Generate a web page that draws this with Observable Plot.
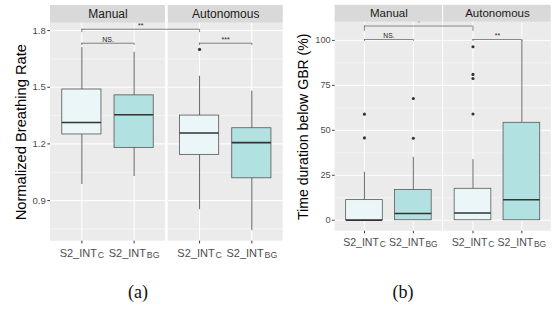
<!DOCTYPE html>
<html>
<head>
<meta charset="utf-8">
<script src="https://cdn.jsdelivr.net/npm/d3@7"></script>
<script src="https://cdn.jsdelivr.net/npm/@observablehq/plot@0.6"></script>
<style>
  html, body { margin: 0; background: #fff; }
  body { position: relative; width: 558px; height: 324px; overflow: hidden; font-family: "Liberation Sans", Arial, sans-serif; }
  .panel { position: absolute; top: 0; }
  .caption { position: absolute; transform: translate(-50%, -50%); font-family: "Liberation Serif", "DejaVu Serif", serif; font-size: 18px; color: #111; }
</style>
</head>
<body>
<div id="panel-a" class="panel" style="left:0px"></div>
<div id="panel-b" class="panel" style="left:280px"></div>
<div class="caption" style="left:138px; top:292px">(a)</div>
<div class="caption" style="left:403px; top:292px">(b)</div>
<script>
// Facets and groups
const modes = ["Manual", "Autonomous"];
const conditions = ["C", "BG"];            // subscripts of S2_INT

// Box order for both panels
const boxMode = ["Manual", "Manual", "Autonomous", "Autonomous"];
const boxCond = ["C", "BG", "C", "BG"];

// (a) Normalized breathing rate: five-number summaries
const brLow    = [0.985, 1.027, 0.852, 0.741];
const brQ1     = [1.250, 1.179, 1.142, 1.018];
const brMedian = [1.313, 1.354, 1.258, 1.207];
const brQ3     = [1.488, 1.457, 1.350, 1.283];
const brHigh   = [1.710, 1.685, 1.558, 1.479];
const brOutMode  = ["Autonomous"];
const brOutCond  = ["C"];
const brOutValue = [1.700];
const brTicks = [0.9, 1.2, 1.5, 1.8];
const brMinor = [0.75, 1.05, 1.35, 1.65];

// (a) significance brackets
const brSigFromMode = ["Manual", "Manual", "Autonomous"];
const brSigFromCond = ["C", "C", "C"];
const brSigToMode   = ["Autonomous", "Manual", "Autonomous"];
const brSigToCond   = ["C", "BG", "BG"];
const brSigLevel    = [1.807, 1.733, 1.733];
const brSigTip      = [1.789, 1.721, 1.721];
const brSigLabel    = ["**", "NS.", "***"];

// (b) Time duration below GBR (%): five-number summaries
const tdLow    = [0, 0, 0, 0];
const tdQ1     = [0, 0, 0, 0];
const tdMedian = [0, 3.7, 4.0, 11.4];
const tdQ3     = [11.2, 16.8, 17.5, 54.2];
const tdHigh   = [26.7, 35.0, 33.7, 100];
const tdOutMode  = ["Manual", "Manual", "Manual", "Manual", "Autonomous", "Autonomous", "Autonomous", "Autonomous"];
const tdOutCond  = ["C", "C", "BG", "BG", "C", "C", "C", "C"];
const tdOutValue = [45.8, 59.0, 45.6, 67.7, 59.1, 78.8, 81.1, 96.5];
const tdTicks = [0, 25, 50, 75, 100];
const tdMinor = [12.5, 37.5, 62.5, 87.5];

// (b) significance brackets
const tdSigFromMode = ["Manual", "Manual", "Autonomous"];
const tdSigFromCond = ["C", "C", "C"];
const tdSigToMode   = ["Autonomous", "Manual", "Autonomous"];
const tdSigToCond   = ["C", "BG", "BG"];
const tdSigLevel    = [108.0, 100.5, 100.5];
const tdSigTip      = [105.0, 99.4, 99.4];
const tdSigLabel    = ["*", "NS.", "**"];

// Box fill per condition
const condFill = {C: "#eaf6f7", BG: "#b1e1e0"};

// Layout constants (ggplot-like discrete expansion, box width, strip)
const EXPAND = 0.6;
const BOX_WIDTH = 0.75;
const MARGIN_TOP = 5;
const STRIP_PX = 17.7;
const PANEL_PX = 218;

function boxPanel(cfg) {
  const span = conditions.length - 1 + 2 * EXPAND;
  const pos = (m, c) => modes.indexOf(m) * (span + cfg.gap) + EXPAND + conditions.indexOf(c);
  const panels = modes.map((m, i) => ({mode: m, x1: i * (span + cfg.gap), x2: i * (span + cfg.gap) + span}));
  const [y0, yTop] = cfg.yDomain;
  const yStrip = yTop + STRIP_PX * (yTop - y0) / PANEL_PX;

  const rows = boxMode.map((m, i) => ({
    mode: m, cond: boxCond[i], x: pos(m, boxCond[i]),
    low: cfg.low[i], q1: cfg.q1[i], median: cfg.median[i], q3: cfg.q3[i], high: cfg.high[i]
  }));
  const outliers = cfg.outMode.map((m, i) => ({x: pos(m, cfg.outCond[i]), y: cfg.outValue[i]}));
  const brackets = cfg.sigLabel.map((label, i) => ({
    x1: pos(cfg.sigFromMode[i], cfg.sigFromCond[i]),
    x2: pos(cfg.sigToMode[i], cfg.sigToCond[i]),
    y: cfg.sigLevel[i], tip: cfg.sigTip[i], label
  }));
  const bracketEnds = brackets.flatMap(b => [{x: b.x1, y: b.y, tip: b.tip}, {x: b.x2, y: b.y, tip: b.tip}]);
  const cats = modes.flatMap(m => conditions.map(c => ({x: pos(m, c), label: `S2_INT_${c}`})));
  const labelAt = new Map(cats.map(d => [d.x, d.label]));
  const grid = ticks => panels.flatMap(p => ticks.map(t => ({x1: p.x1, x2: p.x2, y: t})));

  const height = MARGIN_TOP + STRIP_PX + PANEL_PX + cfg.marginBottom;

  const svg = Plot.plot({
    width: cfg.width,
    height,
    marginTop: MARGIN_TOP,
    marginBottom: cfg.marginBottom,
    marginLeft: cfg.marginLeft,
    marginRight: cfg.marginRight,
    x: {domain: [0, 2 * span + cfg.gap]},
    y: {domain: [y0, yStrip]},
    style: {fontFamily: "'Liberation Sans', Arial, sans-serif", fontSize: "9.6px", color: "#4d4d4d", background: "transparent"},
    marks: [
      // panel backgrounds and grid
      Plot.rect(panels, {x1: "x1", x2: "x2", y1: y0, y2: yTop, fill: "#ebebeb"}),
      Plot.ruleY(grid(cfg.minor), {x1: "x1", x2: "x2", y: "y", stroke: "#fff", strokeWidth: 0.5}),
      Plot.ruleY(grid(cfg.ticks), {x1: "x1", x2: "x2", y: "y", stroke: "#fff", strokeWidth: 1}),
      Plot.ruleX(cats, {x: "x", y1: y0, y2: yTop, stroke: "#fff", strokeWidth: 1}),
      // whiskers, boxes, medians, outliers
      Plot.ruleX(rows, {x: "x", y1: "low", y2: "high", stroke: "#333", strokeWidth: 0.75}),
      Plot.rect(rows, {
        x1: d => d.x - BOX_WIDTH / 2, x2: d => d.x + BOX_WIDTH / 2,
        y1: "q1", y2: "q3", fill: d => condFill[d.cond], stroke: "#555", strokeWidth: 0.8
      }),
      Plot.ruleY(rows, {
        x1: d => d.x - BOX_WIDTH / 2, x2: d => d.x + BOX_WIDTH / 2,
        y: "median", stroke: "#333", strokeWidth: 1.6
      }),
      Plot.dot(outliers, {x: "x", y: "y", r: 1.6, fill: "#333", stroke: null}),
      // significance brackets
      Plot.ruleY(brackets, {x1: "x1", x2: "x2", y: "y", stroke: "#555", strokeWidth: 0.7}),
      Plot.ruleX(bracketEnds, {x: "x", y1: "tip", y2: "y", stroke: "#555", strokeWidth: 0.7}),
      Plot.text(brackets, {
        x: d => (d.x1 + d.x2) / 2, y: "y", text: "label",
        lineAnchor: "bottom", dy: -1.5, fontSize: 7, fill: "#222"
      }),
      // facet strips
      Plot.rect(panels, {x1: "x1", x2: "x2", y1: yTop, y2: yStrip, fill: "#d9d9d9"}),
      Plot.text(panels, {
        x: d => (d.x1 + d.x2) / 2, y: (yTop + yStrip) / 2, text: "mode",
        fontSize: 12, fill: "#1a1a1a"
      }),
      // axes
      Plot.axisY({ticks: cfg.ticks, tickSize: 2.7, tickPadding: 2, label: null, fontSize: 9.6, stroke: "#333"}),
      Plot.axisX({
        ticks: cats.map(d => d.x), tickFormat: d => labelAt.get(d) ?? "",
        tickSize: 2.7, tickPadding: 5, label: null, fontSize: 11, stroke: "#333"
      }),
      Plot.text([cfg.title], {
        x: 0, y: (y0 + yTop) / 2, text: d => d, rotate: -90,
        dx: cfg.titleX - cfg.marginLeft, fontSize: cfg.titleSize, fill: "#000"
      })
    ]
  });

  // write the S2_INT labels with their subscript
  d3.select(svg).selectAll("text").each(function () {
    const t = this.textContent;
    const m = /^S2_INT_(\w+)$/.exec(t);
    if (!m) return;
    const sel = d3.select(this);
    sel.text(null);
    sel.append("tspan").text("S2_INT");
    sel.append("tspan").attr("font-size", 8.8).attr("dx", 0.8).attr("dy", 1).text(m[1]);
  });
  return svg;
}

document.getElementById("panel-a").append(boxPanel({
  width: 285, marginLeft: 50, marginRight: 2.3, marginBottom: 21.3, gap: 0.052,
  yDomain: [0.685, 1.839],
  low: brLow, q1: brQ1, median: brMedian, q3: brQ3, high: brHigh,
  outMode: brOutMode, outCond: brOutCond, outValue: brOutValue,
  ticks: brTicks, minor: brMinor,
  sigFromMode: brSigFromMode, sigFromCond: brSigFromCond, sigToMode: brSigToMode, sigToCond: brSigToCond,
  sigLevel: brSigLevel, sigTip: brSigTip, sigLabel: brSigLabel,
  title: "Normalized Breathing Rate", titleX: 21, titleSize: 14.7
}));

document.getElementById("panel-b").append(boxPanel({
  width: 290, marginLeft: 57, marginRight: 7.6, marginBottom: 21.3, gap: 0.02,
  yDomain: [-6.1, 110.1],
  low: tdLow, q1: tdQ1, median: tdMedian, q3: tdQ3, high: tdHigh,
  outMode: tdOutMode, outCond: tdOutCond, outValue: tdOutValue,
  ticks: tdTicks, minor: tdMinor,
  sigFromMode: tdSigFromMode, sigFromCond: tdSigFromCond, sigToMode: tdSigToMode, sigToCond: tdSigToCond,
  sigLevel: tdSigLevel, sigTip: tdSigTip, sigLabel: tdSigLabel,
  title: "Time duration below GBR (%)", titleX: 24, titleSize: 14.7
}));
</script>
</body>
</html>
